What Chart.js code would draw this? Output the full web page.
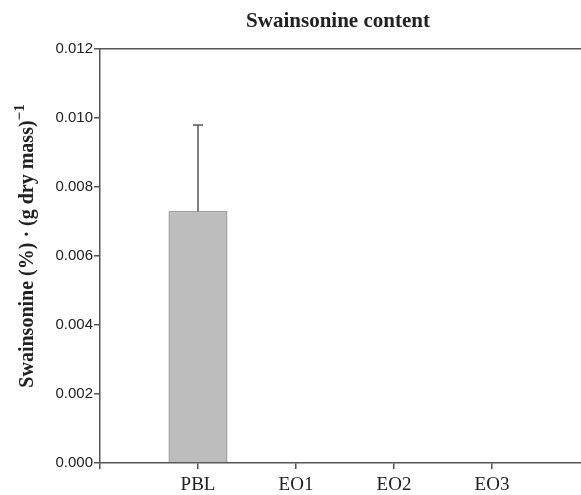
<!DOCTYPE html>
<html>
<head>
<meta charset="utf-8">
<script src="https://cdn.jsdelivr.net/npm/chart.js@4/dist/chart.umd.min.js"></script>
<style>
  html, body { margin: 0; padding: 0; background: #fff; overflow: hidden; }
  #wrap { width: 600px; height: 495px; }
</style>
</head>
<body>
<div id="wrap"><canvas id="chart" width="600" height="495"></canvas></div>
<script>
// categories (blank slots pad the ends of the axis like in the original figure)
var groups = ['', 'PBL', 'EO1', 'EO2', 'EO3', ''];
var swainsonine = [null, 0.0073, 0, 0, 0, null];
var swainsonineSd = [null, 0.0025, 0, 0, 0, null];
var yTicks = [0, 0.002, 0.004, 0.006, 0.008, 0.010, 0.012];

var axisColor = '#555';
var textColor = '#222';
var serif = '"Liberation Serif", "Times New Roman", serif';

// draws the upper error whisker for each bar
var errorBars = {
  id: 'errorBars',
  afterDatasetsDraw: function(chart) {
    var ctx = chart.ctx;
    var meta = chart.getDatasetMeta(0);
    var y = chart.scales.y;
    ctx.save();
    ctx.strokeStyle = axisColor;
    ctx.lineWidth = 1.5;
    meta.data.forEach(function(bar, i) {
      var v = swainsonine[i], e = swainsonineSd[i];
      if (!v || !e) return;
      var top = y.getPixelForValue(v + e);
      var base = y.getPixelForValue(v);
      ctx.beginPath();
      ctx.moveTo(bar.x, base);
      ctx.lineTo(bar.x, top);
      ctx.moveTo(bar.x - 5, top);
      ctx.lineTo(bar.x + 5, top);
      ctx.stroke();
    });
    ctx.restore();
  }
};

// chart title and y-axis title, placed by hand like the original figure
var titles = {
  id: 'titles',
  afterDraw: function(chart) {
    var ctx = chart.ctx;
    ctx.save();
    ctx.fillStyle = textColor;
    ctx.textBaseline = 'middle';

    ctx.font = 'bold 21px ' + serif;
    ctx.textAlign = 'center';
    ctx.fillText('Swainsonine content', 338, 22);

    ctx.translate(28, 246);
    ctx.rotate(-Math.PI / 2);
    var main = 'Swainsonine (%) \u00b7 (g dry mass)';
    var sup = '\u22121';
    ctx.font = 'bold 20px ' + serif;
    var w1 = ctx.measureText(main).width;
    ctx.font = 'bold 15px ' + serif;
    var w2 = ctx.measureText(sup).width;
    var x0 = -(w1 + w2) / 2;
    ctx.textAlign = 'left';
    ctx.font = 'bold 20px ' + serif;
    ctx.fillText(main, x0, 0);
    ctx.font = 'bold 15px ' + serif;
    ctx.fillText(sup, x0 + w1, -8);
    ctx.restore();
  }
};

new Chart(document.getElementById('chart'), {
  type: 'bar',
  data: {
    labels: groups,
    datasets: [{
      data: swainsonine,
      backgroundColor: '#bdbdbd',
      borderColor: axisColor,
      borderWidth: 1,
      borderSkipped: 'bottom',
      barPercentage: 0.6,
      categoryPercentage: 1
    }]
  },
  options: {
    responsive: false,
    animation: false,
    layout: { padding: { left: 0, right: 10, top: 49, bottom: 0 } },
    plugins: {
      legend: { display: false },
      tooltip: { enabled: false },
      title: { display: false }
    },
    scales: {
      x: {
        offset: false,
        afterFit: function(scale) { scale.height = 32; },
        grid: { display: true, offset: false, drawOnChartArea: false, drawTicks: true, tickLength: 6, color: axisColor, lineWidth: 1.5 },
        border: { color: axisColor, width: 1.5 },
        ticks: {
          color: textColor,
          padding: 5,
          maxRotation: 0,
          autoSkip: false,
          font: { family: serif, size: 19 }
        }
      },
      x2: {
        position: 'top',
        grid: { display: false, drawTicks: false },
        border: { color: axisColor, width: 1.5 },
        ticks: { display: false },
        afterFit: function(scale) { scale.height = 0; }
      },
      y: {
        min: 0,
        max: 0.012,
        afterFit: function(scale) { scale.width = 100; },
        afterBuildTicks: function(scale) {
          scale.ticks = yTicks.map(function(v) { return { value: v }; });
        },
        grid: { display: true, drawOnChartArea: false, drawTicks: true, tickLength: 6, color: axisColor, lineWidth: 1.5 },
        border: { color: axisColor, width: 1.5 },
        ticks: {
          color: textColor,
          padding: 1,
          font: { family: '"Liberation Sans", Arial, sans-serif', size: 15 },
          callback: function(v) { return Number(v).toFixed(3); }
        }
      }
    }
  },
  plugins: [errorBars, titles]
});
</script>
</body>
</html>
